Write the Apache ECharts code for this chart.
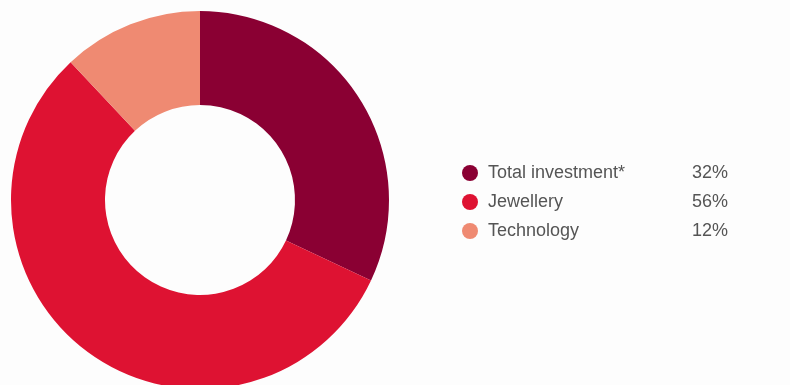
<!DOCTYPE html>
<html>
<head>
<meta charset="utf-8">
<script src="https://cdn.jsdelivr.net/npm/echarts@6/dist/echarts.min.js"></script>
<style>
  html, body { margin: 0; padding: 0; background: #fdfdfd; }
  #chart { width: 790px; height: 385px; }
</style>
</head>
<body>
<div id="chart"></div>
<script>
// Gold demand by sector
const categories = ['Total investment*', 'Jewellery', 'Technology'];
const shares = [32, 56, 12];
const colors = ['#8a0033', '#de1232', '#ef8a72'];

const chart = echarts.init(document.getElementById('chart'), null, { renderer: 'canvas' });

const shareByName = {};
categories.forEach((c, i) => { shareByName[c] = shares[i]; });

chart.setOption({
  backgroundColor: '#fdfdfd',
  animation: false,
  legend: {
    orient: 'vertical',
    left: 457,
    top: 159,
    icon: 'circle',
    itemWidth: 16,
    itemHeight: 16,
    itemGap: 11,
    selectedMode: false,
    data: categories,
    formatter: name => '{n|' + name + '}{p|' + shareByName[name] + '%}',
    textStyle: {
      rich: {
        n: {
          fontFamily: 'Liberation Sans, Arial, sans-serif',
          fontSize: 18,
          color: '#555555',
          width: 197,
          padding: [0, 0, 0, 5]
        },
        p: {
          fontFamily: 'Liberation Sans, Arial, sans-serif',
          fontSize: 18,
          color: '#555555',
          width: 43,
          align: 'right'
        }
      }
    }
  },
  series: [{
    type: 'pie',
    center: [200, 200],
    radius: [95, 189],
    startAngle: 90,
    clockwise: true,
    label: { show: false },
    labelLine: { show: false },
    emphasis: { disabled: true },
    data: categories.map((c, i) => ({
      name: c,
      value: shares[i],
      itemStyle: { color: colors[i] }
    }))
  }]
});
</script>
</body>
</html>
